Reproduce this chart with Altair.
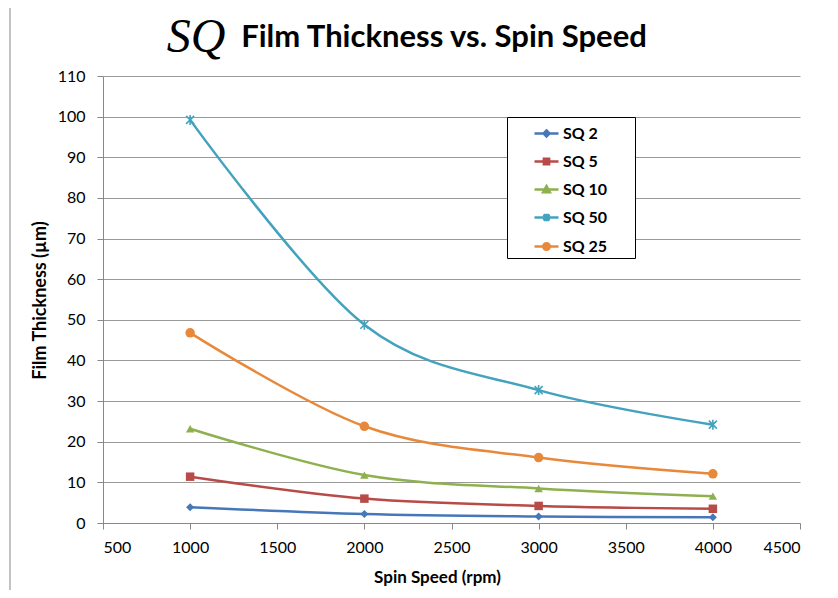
import altair as alt
import pandas as pd

speeds = [1000, 2000, 3000, 4000]
series_names = ["SQ 2", "SQ 5", "SQ 10", "SQ 50", "SQ 25"]
sq2 = [3.9, 2.2, 1.6, 1.4]
sq5 = [11.4, 6.0, 4.2, 3.5]
sq10 = [23.2, 11.8, 8.5, 6.6]
sq50 = [99.2, 48.8, 32.7, 24.2]
sq25 = [46.8, 23.8, 16.1, 12.1]
colors = ["#4677B8", "#B84A47", "#8FB04F", "#43A2BD", "#E8883A"]
x_ticks = list(range(500, 4501, 500))
y_ticks = list(range(0, 111, 5))
title_text = "Film Thickness vs. Spin Speed"
logo_text = "SQ"

PAD = "\u2800" * 2
legend_labels = [n + PAD for n in series_names]

values = {"SQ 2": sq2, "SQ 5": sq5, "SQ 10": sq10, "SQ 50": sq50, "SQ 25": sq25}
rows = []
for name, lab in zip(series_names, legend_labels):
    for s, v in zip(speeds, values[name]):
        rows.append({"series": name, "legend_label": lab, "speed": s, "thickness": v})
df = pd.DataFrame(rows)

ASTER = "M-1,-1L1,1M-1,1L1,-1M0,-1.25V1.25"
point_shapes = ["diamond", "square", "triangle-up", ASTER, "circle"]
point_sizes = [64, 72, 72, 64, 90]

LINE = "M-1,0H1"
legend_shapes = [
    LINE + "M0,-0.25L0.25,0L0,0.25L-0.25,0Z",
    LINE + "M-0.22,-0.22H0.22V0.22H-0.22Z",
    LINE + "M0,-0.28L0.28,0.22H-0.28Z",
    LINE + "M-0.25,-0.25L0.25,0.25M-0.25,0.25L0.25,-0.25M0,-0.32V0.32",
    LINE + "M-0.27,0A0.27,0.27 0 1,0 0.27,0A0.27,0.27 0 1,0 -0.27,0Z",
]

FONT = "Lato"

color_scale = alt.Scale(domain=series_names, range=colors)
legend_color_scale = alt.Scale(domain=legend_labels, range=colors)

legend = alt.Legend(
    title=None,
    orient="none",
    legendX=404,
    legendY=41,
    padding=3,
    rowPadding=6,
    symbolOffset=23,
    labelOffset=3,
    symbolSize=576,
    symbolStrokeWidth=2.5,
    symbolOpacity=1,
    labelFont=FONT,
    labelFontSize=16,
    labelFontWeight="bold",
    labelColor="black",
    fillColor="white",
    strokeColor="black",
    cornerRadius=0,
)

x_enc = alt.X(
    "speed:Q",
    scale=alt.Scale(domain=[500, 4500], nice=False, zero=False),
    axis=alt.Axis(
        values=x_ticks,
        title="Spin Speed (rpm)",
        grid=False,
        labelFont=FONT,
        labelFontSize=16,
        labelColor="black",
        labelPadding=10,
        tickSize=6,
        tickColor="#888888",
        domainColor="#888888",
        titleFont=FONT,
        titleFontSize=17,
        titleFontWeight="bold",
        titleColor="black",
        titleX=334,
        titleY=54,
        titleBaseline="middle",
        titleAnchor="start",
        titleAlign="center",
        format="d",
    ),
)
y_enc = alt.Y(
    "thickness:Q",
    scale=alt.Scale(domain=[0, 110], nice=False),
    axis=alt.Axis(
        values=y_ticks,
        title="Film Thickness (µm)",
        labelExpr="datum.value % 10 === 0 ? datum.label : ''",
        grid=True,
        gridColor="#9a9a9a",
        gridOpacity={"condition": {"test": "datum.value % 10 === 0", "value": 1}, "value": 0},
        tickSize={"condition": {"test": "datum.value % 10 === 0", "value": 6}, "value": 4},
        labelFont=FONT,
        labelFontSize=16,
        labelColor="black",
        labelPadding=12,
        tickColor="#888888",
        domainColor="#888888",
        titleFont=FONT,
        titleFontSize=18,
        titleFontWeight="bold",
        titleColor="black",
        titleX=-63,
        titleY=224,
        titleBaseline="middle",
        titleAlign="center",
        titleAngle=270,
        format="d",
    ),
)

lines = alt.Chart(df).mark_line(interpolate="cardinal", strokeWidth=2.5).encode(
    x=x_enc,
    y=y_enc,
    color=alt.Color("series:N", scale=color_scale, legend=None),
    detail="series:N",
)

point_layers = []
for name, shp, sz in zip(series_names, point_shapes, point_sizes):
    is_aster = shp == ASTER
    pl = alt.Chart(df).transform_filter(alt.datum.series == name).mark_point(
        shape=shp, size=sz, filled=not is_aster, strokeWidth=1.6 if is_aster else 1, opacity=1
    ).encode(
        x="speed:Q",
        y="thickness:Q",
        color=alt.Color("series:N", scale=color_scale, legend=None),
    )
    point_layers.append(pl)

legend_layer = alt.Chart(df).mark_point(
    filled=True, size=576, strokeWidth=2.5, opacity=0
).encode(
    x="speed:Q",
    y="thickness:Q",
    fill=alt.Fill("legend_label:N", scale=legend_color_scale, legend=legend),
    stroke=alt.Stroke("legend_label:N", scale=legend_color_scale, legend=legend),
    shape=alt.Shape("legend_label:N", scale=alt.Scale(domain=legend_labels, range=legend_shapes), legend=legend),
)

frame = alt.Chart(alt.Data(values=[{"k": 1}])).mark_rect(
    fill=None, stroke="#888888", strokeWidth=1
).encode(
    x=alt.value(-93), x2=alt.value(729), y=alt.value(-70), y2=alt.value(600)
)

logo = alt.Chart(alt.Data(values=[{"t": logo_text}])).mark_text(
    font="Liberation Serif", fontStyle="italic", fontSize=48, fontWeight="normal",
    align="center", baseline="middle", color="black"
).encode(text="t:N", x=alt.value(93), y=alt.value(-38))

title = alt.Chart(alt.Data(values=[{"t": title_text}])).mark_text(
    font=FONT, fontSize=31, fontWeight="bold",
    align="center", baseline="alphabetic", color="black"
).encode(text="t:N", x=alt.value(341), y=alt.value(-29))

chart = alt.layer(frame, lines, *point_layers, legend_layer, logo, title).properties(
    width=697,
    height=447,
    autosize=alt.AutoSizeParams(type="none"),
    padding={"left": 95, "top": 68, "right": 30, "bottom": 67},
    background="white",
).configure_view(stroke=None)

chart.save("out.html", embed_options={"renderer": "svg", "actions": False})
